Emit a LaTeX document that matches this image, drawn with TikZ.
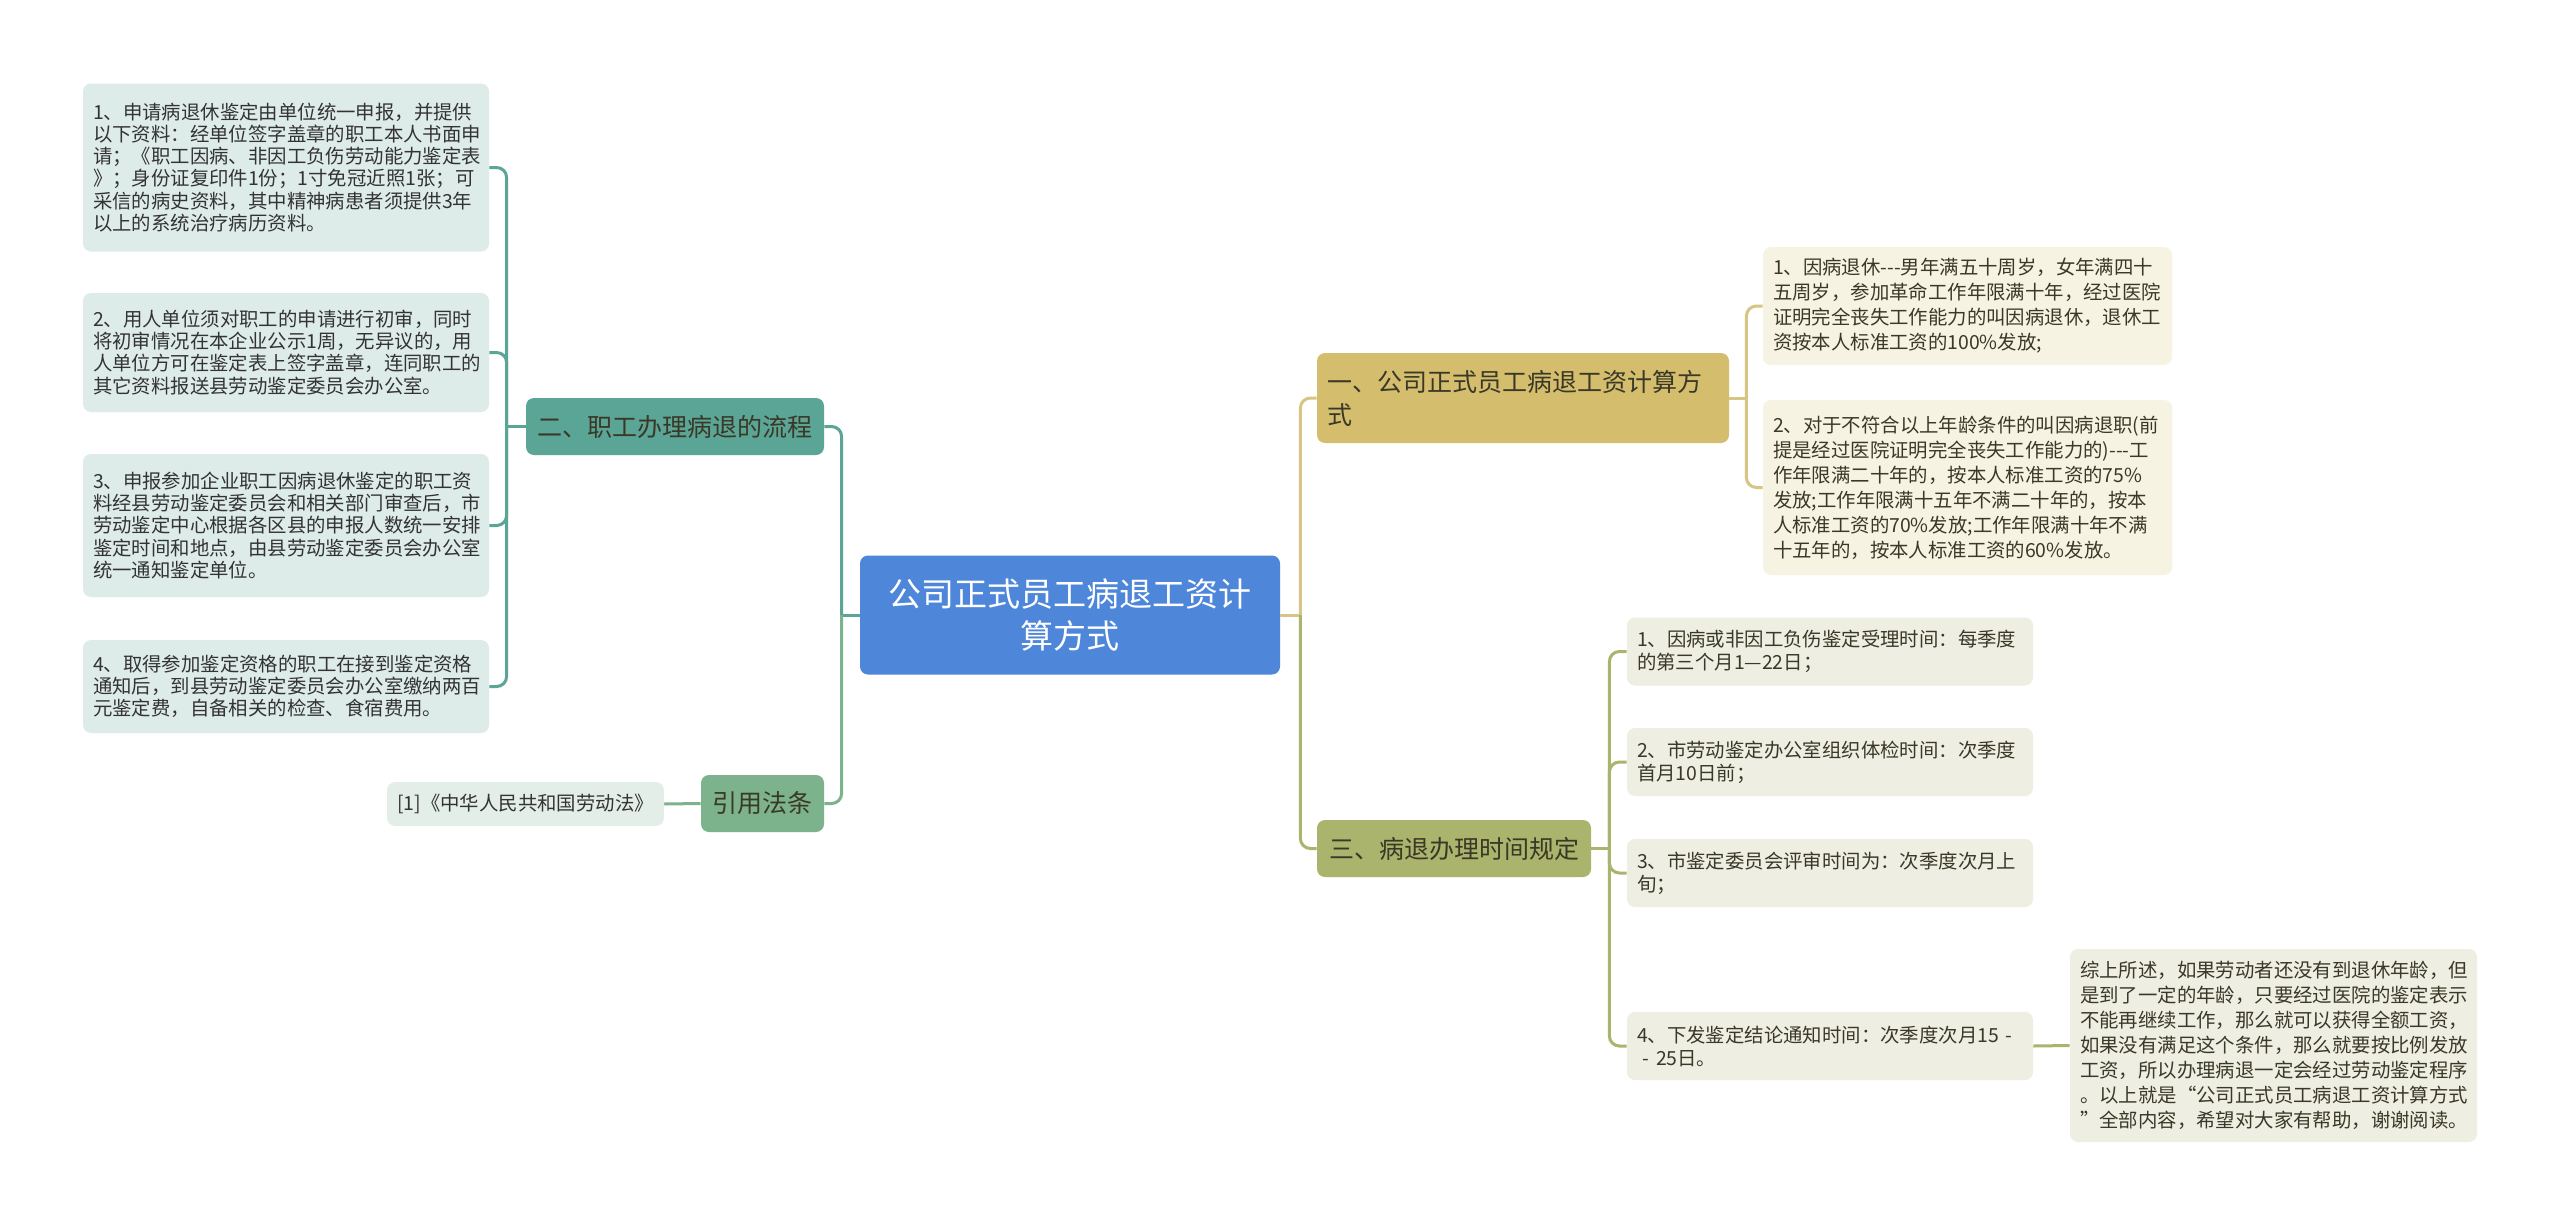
\documentclass[tikz,border=0pt]{standalone}
\usepackage{fontspec}
\setmainfont{Noto Sans CJK SC}
\usetikzlibrary{positioning}
\definecolor{rootblue}{HTML}{4E86DA}
\definecolor{teal1}{HTML}{5AA596}
\definecolor{tealpale}{HTML}{DEECE9}
\definecolor{green1}{HTML}{7CB38C}
\definecolor{greenpale}{HTML}{E3EEE8}
\definecolor{gold1}{HTML}{D4BE6E}
\definecolor{goldline}{HTML}{D8C584}
\definecolor{goldpale}{HTML}{F6F3E2}
\definecolor{olive1}{HTML}{AAB46C}
\definecolor{olivepale}{HTML}{EEEEE2}
\definecolor{ink}{HTML}{333333}
\definecolor{inkb}{HTML}{3A3826}

\begin{document}
\begin{tikzpicture}[x=.5pt, y=-.5pt,
    box/.style={rounded corners=4pt, inner xsep=5pt, inner ysep=0pt},
    small/.style={font=\fontsize{9.7pt}{11.05pt}\selectfont},
    branch/.style={box, text=inkb, minimum height=28.5pt, font=\fontsize{12.5pt}{16.5pt}\selectfont},
    leafL/.style={box, small, fill=tealpale, text=ink, text width=193pt, align=left},
    leafR/.style={box, fill=goldpale, text=inkb, text width=194.5pt, align=left, font=\fontsize{9.7pt}{12.5pt}\selectfont},
    leafT/.style={box, fill=olivepale, text=inkb, text width=193pt, align=left, minimum height=34pt, font=\fontsize{9.7pt}{11.5pt}\selectfont},
    line/.style={line width=1.5pt, rounded corners=5pt}]
\path[fill=white, use as bounding box] (0,0) rectangle (2560,1226);

\node[box, fill=rootblue, text=white, align=center, minimum width=210pt, minimum height=59.5pt,
    font=\fontsize{16.5pt}{21pt}\selectfont] (root) at (1070,615) {公司正式员工病退工资计\\算方式};

\node[branch, fill=teal1, minimum width=149pt] (liucheng) at (675,426.5) {二、职工办理病退的流程};
\node[branch, fill=green1, minimum width=61.5pt] (yinyong) at (762.5,803.5) {引用法条};
\node[branch, fill=gold1, text width=196pt, align=left, minimum height=45pt] (jisuan) at (1523,398) {一、公司正式员工病退工资计算方\\式};
\node[branch, fill=olive1, minimum width=137pt] (shijian) at (1454,848.5) {三、病退办理时间规定};

\node[leafL, minimum height=84pt] (p1) at (286,167.5) {1、申请病退休鉴定由单位统一申报，并提供\\以下资料：经单位签字盖章的职工本人书面申\\请；《职工因病、非因工负伤劳动能力鉴定表\\》；身份证复印件1份；1寸免冠近照1张；可\\采信的病史资料，其中精神病患者须提供3年\\以上的系统治疗病历资料。};
\node[leafL, minimum height=59.5pt] (p2) at (286,352.5) {2、用人单位须对职工的申请进行初审，同时\\将初审情况在本企业公示1周，无异议的，用\\人单位方可在鉴定表上签字盖章，连同职工的\\其它资料报送县劳动鉴定委员会办公室。};
\node[leafL, minimum height=71.5pt] (p3) at (286,525.5) {3、申报参加企业职工因病退休鉴定的职工资\\料经县劳动鉴定委员会和相关部门审查后，市\\劳动鉴定中心根据各区县的申报人数统一安排\\鉴定时间和地点，由县劳动鉴定委员会办公室\\统一通知鉴定单位。};
\node[leafL, minimum height=46.5pt] (p4) at (286,686.5) {4、取得参加鉴定资格的职工在接到鉴定资格\\通知后，到县劳动鉴定委员会办公室缴纳两百\\元鉴定费，自备相关的检查、食宿费用。};

\node[box, small, fill=greenpale, text=ink, minimum width=137.5pt, minimum height=22pt] (falv) at (525.5,804) {[1]《中华人民共和国劳动法》};

\node[leafR, minimum height=59pt] (r1) at (1967.5,306) {1、因病退休-{}-{}-男年满五十周岁，女年满四十\\五周岁，参加革命工作年限满十年，经过医院\\证明完全丧失工作能力的叫因病退休，退休工\\资按本人标准工资的100\%发放;};
\node[leafR, minimum height=87.5pt] (r2) at (1967.5,487.5) {2、对于不符合以上年龄条件的叫因病退职(前\\提是经过医院证明完全丧失工作能力的)-{}-{}-工\\作年限满二十年的，按本人标准工资的75\%\\发放;工作年限满十五年不满二十年的，按本\\人标准工资的70\%发放;工作年限满十年不满\\十五年的，按本人标准工资的60\%发放。};

\node[leafT] (t1) at (1830,651.5) {1、因病或非因工负伤鉴定受理时间：每季度\\的第三个月1—22日；};
\node[leafT] (t2) at (1830,762) {2、市劳动鉴定办公室组织体检时间：次季度\\首月10日前；};
\node[leafT] (t3) at (1830,873) {3、市鉴定委员会评审时间为：次季度次月上\\旬；};
\node[leafT] (t4) at (1830,1046) {4、下发鉴定结论通知时间：次季度次月15 -\\\hspace*{.3em}- 25日。};
\node[box, fill=olivepale, text=inkb, text width=193.5pt, align=left, minimum height=96.5pt,
    font=\fontsize{9.7pt}{12.5pt}\selectfont] (zongjie) at (2273.5,1045.5) {综上所述，如果劳动者还没有到退休年龄，但\\是到了一定的年龄，只要经过医院的鉴定表示\\不能再继续工作，那么就可以获得全额工资，\\如果没有满足这个条件，那么就要按比例发放\\工资，所以办理病退一定会经过劳动鉴定程序\\。以上就是“公司正式员工病退工资计算方式\\”全部内容，希望对大家有帮助，谢谢阅读。};

\draw[line, teal1] (root.west) -- ++(-9pt,0);
\draw[line, teal1] ([xshift=-9pt]root.west) |- (liucheng.east);
\draw[line, green1] ([xshift=-9pt]root.west) |- (yinyong.east);
\draw[line, goldline] (root.east) -- ++(10pt,0);
\draw[line, goldline] ([xshift=10pt]root.east) |- (jisuan.west);
\draw[line, olive1] ([xshift=10pt]root.east) |- (shijian.west);

\draw[line, teal1] (liucheng.west) -- ++(-9.5pt,0);
\foreach \n in {p1,p2,p3,p4}
    \draw[line, teal1] ([xshift=-9.5pt]liucheng.west) |- (\n.east);
\draw[line, green1] (yinyong.west) -- (falv.east);

\draw[line, goldline] (jisuan.east) -- ++(8.5pt,0);
\foreach \n in {r1,r2}
    \draw[line, goldline] ([xshift=8.5pt]jisuan.east) |- (\n.west);

\draw[line, olive1] (shijian.east) -- ++(9pt,0);
\foreach \n in {t1,t2,t3,t4}
    \draw[line, olive1] ([xshift=9pt]shijian.east) |- (\n.west);
\draw[line, olive1] (t4.east) -- (zongjie.west);

\end{tikzpicture}
\end{document}
